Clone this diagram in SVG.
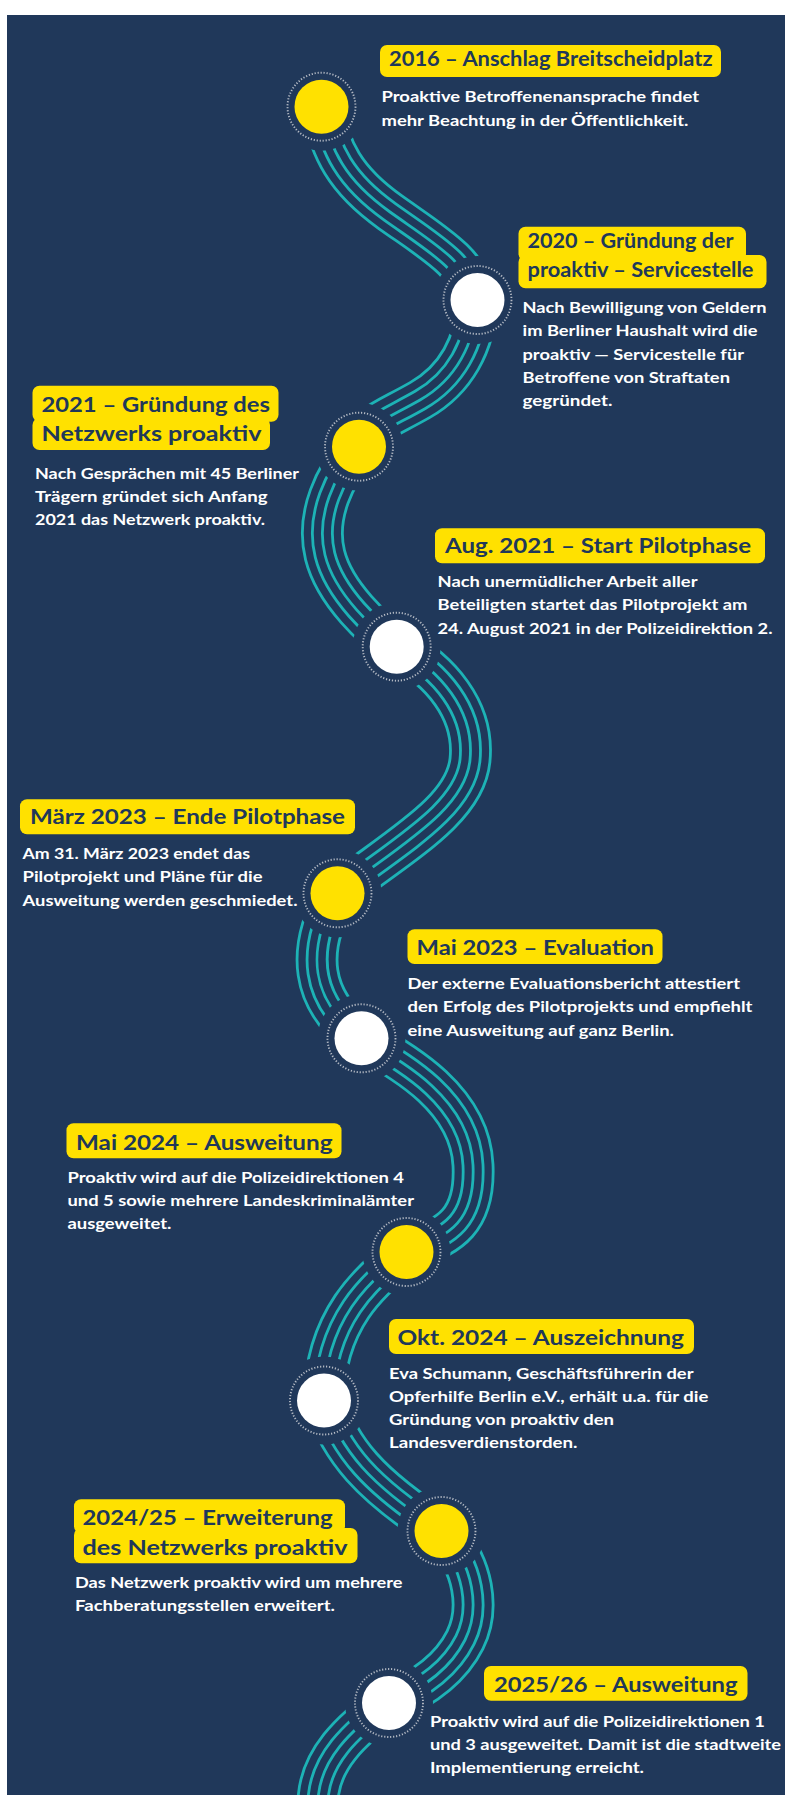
<svg xmlns="http://www.w3.org/2000/svg" xmlns:xlink="http://www.w3.org/1999/xlink" width="785" height="1795" viewBox="0 0 785 1795">
<style>
.bg{fill:#20385a}
.box{fill:#ffe100}
.title{font-family:Lato,"Open Sans","Liberation Sans",sans-serif;font-weight:700;font-size:21px;fill:#20385a}
.desc{font-family:Lato,"Open Sans","Liberation Sans",sans-serif;font-weight:700;font-size:15.5px;fill:#ffffff}
.ring{fill:none;stroke:#b4bac4;stroke-width:1.9;stroke-dasharray:1.2 1.8}
.y{fill:#ffe100}
.w{fill:#ffffff}
.t1{fill:none;stroke:#1db3b6;stroke-width:42.8}
.n1{fill:none;stroke:#20385a;stroke-width:37.2}
.t2{fill:none;stroke:#1db3b6;stroke-width:22.8}
.n2{fill:none;stroke:#20385a;stroke-width:17.2}
.t3{fill:none;stroke:#1db3b6;stroke-width:2.8}
</style>
<defs>
<path id="track" d="M 321.5 106.7 C 330 150, 345 180, 390 212 S 468 262, 477.5 300 C 475 345, 455 380, 420 400 S 365 425, 359 446.7 C 335 475, 315 515, 325 555 S 375 630, 396.7 646.7 C 440 670, 475 710, 470 760 S 400 845, 337.5 893.3 C 305 950, 310 1000, 361.5 1038.3 C 405 1062, 470 1100, 473 1165 S 440 1237, 406.5 1252 C 370 1280, 325 1320, 324 1400.5 C 340 1450, 370 1485, 441.5 1531 C 475 1565, 480 1610, 465 1640 S 420 1690, 389 1703 C 350 1730, 320 1760, 318 1800"/>
<mask id="gaps" maskUnits="userSpaceOnUse" x="0" y="0" width="785" height="1795">
<rect x="0" y="0" width="785" height="1795" fill="#fff"/>
<circle cx="321.5" cy="106.7" r="44" fill="#000"/>
<circle cx="477.5" cy="300" r="44" fill="#000"/>
<circle cx="359" cy="446.7" r="44" fill="#000"/>
<circle cx="396.7" cy="646.7" r="44" fill="#000"/>
<circle cx="337.5" cy="893.3" r="44" fill="#000"/>
<circle cx="361.5" cy="1038.3" r="44" fill="#000"/>
<circle cx="406.5" cy="1252" r="44" fill="#000"/>
<circle cx="324" cy="1400.5" r="44" fill="#000"/>
<circle cx="441.5" cy="1531" r="44" fill="#000"/>
<circle cx="389" cy="1703" r="44" fill="#000"/>
</mask>
</defs>
<rect x="0" y="0" width="785" height="1795" fill="#ffffff"/>
<rect class="bg" x="7" y="15" width="778" height="1780"/>
<g id="connectors" mask="url(#gaps)">
<use href="#track" class="t1"/>
<use href="#track" class="n1"/>
<use href="#track" class="t2"/>
<use href="#track" class="n2"/>
<use href="#track" class="t3"/>
</g>
<g id="node-2016">
<circle class="y" cx="321.5" cy="106.7" r="27"/>
<circle class="ring" cx="321.5" cy="106.7" r="34"/>
<rect class="box" x="380" y="45" width="341" height="32" rx="7"/>
<text class="title" x="389" y="66" textLength="323.5" lengthAdjust="spacingAndGlyphs">2016 – Anschlag Breitscheidplatz</text>
<text class="desc" x="381.5" y="101.7" textLength="317.5" lengthAdjust="spacingAndGlyphs">Proaktive Betroffenenansprache findet</text>
<text class="desc" x="381.5" y="125.5" textLength="307" lengthAdjust="spacingAndGlyphs">mehr Beachtung in der Öffentlichkeit.</text>
</g>
<g id="node-2020">
<circle class="w" cx="477.5" cy="300" r="27"/>
<circle class="ring" cx="477.5" cy="300" r="34"/>
<rect class="box" x="518.5" y="226.7" width="227.5" height="34" rx="7"/>
<rect class="box" x="518.5" y="255" width="248" height="33.3" rx="7"/>
<text class="title" x="527.5" y="248.3" textLength="206" lengthAdjust="spacingAndGlyphs">2020 – Gründung der</text>
<text class="title" x="527.5" y="276.7" textLength="226" lengthAdjust="spacingAndGlyphs">proaktiv – Servicestelle</text>
<text class="desc" x="522.5" y="313.3" textLength="244" lengthAdjust="spacingAndGlyphs">Nach Bewilligung von Geldern</text>
<text class="desc" x="522.5" y="336.3" textLength="235" lengthAdjust="spacingAndGlyphs">im Berliner Haushalt wird die</text>
<text class="desc" x="522.5" y="359.6" textLength="221.5" lengthAdjust="spacingAndGlyphs">proaktiv — Servicestelle für</text>
<text class="desc" x="522.5" y="382.9" textLength="207.5" lengthAdjust="spacingAndGlyphs">Betroffene von Straftaten</text>
<text class="desc" x="522.5" y="405.7" textLength="90" lengthAdjust="spacingAndGlyphs">gegründet.</text>
</g>
<g id="node-2021">
<circle class="y" cx="359" cy="446.7" r="27"/>
<circle class="ring" cx="359" cy="446.7" r="34"/>
<rect class="box" x="32.5" y="385.7" width="246" height="36" rx="7"/>
<rect class="box" x="32.5" y="418" width="237.5" height="32" rx="7"/>
<text class="title" x="41.5" y="411.7" textLength="228.5" lengthAdjust="spacingAndGlyphs">2021 – Gründung des</text>
<text class="title" x="41.5" y="440.7" textLength="220" lengthAdjust="spacingAndGlyphs">Netzwerks proaktiv</text>
<text class="desc" x="35" y="479.3" textLength="264" lengthAdjust="spacingAndGlyphs">Nach Gesprächen mit 45 Berliner</text>
<text class="desc" x="35" y="502.3" textLength="232.5" lengthAdjust="spacingAndGlyphs">Trägern gründet sich Anfang</text>
<text class="desc" x="35" y="525" textLength="230" lengthAdjust="spacingAndGlyphs">2021 das Netzwerk proaktiv.</text>
</g>
<g id="node-aug2021">
<circle class="w" cx="396.7" cy="646.7" r="27"/>
<circle class="ring" cx="396.7" cy="646.7" r="34"/>
<rect class="box" x="435" y="528.3" width="330" height="35" rx="7"/>
<text class="title" x="445" y="553.3" textLength="306" lengthAdjust="spacingAndGlyphs">Aug. 2021 – Start Pilotphase</text>
<text class="desc" x="437.5" y="586.7" textLength="260" lengthAdjust="spacingAndGlyphs">Nach unermüdlicher Arbeit aller</text>
<text class="desc" x="437.5" y="610.3" textLength="310" lengthAdjust="spacingAndGlyphs">Beteiligten startet das Pilotprojekt am</text>
<text class="desc" x="437.5" y="633.7" textLength="335" lengthAdjust="spacingAndGlyphs">24. August 2021 in der Polizeidirektion 2.</text>
</g>
<g id="node-maerz2023">
<circle class="y" cx="337.5" cy="893.3" r="27"/>
<circle class="ring" cx="337.5" cy="893.3" r="34"/>
<rect class="box" x="20" y="799.3" width="335" height="35" rx="7"/>
<text class="title" x="30" y="824" textLength="315" lengthAdjust="spacingAndGlyphs">März 2023 – Ende Pilotphase</text>
<text class="desc" x="22.5" y="859" textLength="227.5" lengthAdjust="spacingAndGlyphs">Am 31. März 2023 endet das</text>
<text class="desc" x="22.5" y="882.3" textLength="240" lengthAdjust="spacingAndGlyphs">Pilotprojekt und Pläne für die</text>
<text class="desc" x="22.5" y="905.7" textLength="275" lengthAdjust="spacingAndGlyphs">Ausweitung werden geschmiedet.</text>
</g>
<g id="node-mai2023">
<circle class="w" cx="361.5" cy="1038.3" r="27"/>
<circle class="ring" cx="361.5" cy="1038.3" r="34"/>
<rect class="box" x="407.5" y="929.3" width="255" height="34.7" rx="7"/>
<text class="title" x="416.5" y="955" textLength="237.5" lengthAdjust="spacingAndGlyphs">Mai 2023 – Evaluation</text>
<text class="desc" x="407.5" y="989.3" textLength="332.5" lengthAdjust="spacingAndGlyphs">Der externe Evaluationsbericht attestiert</text>
<text class="desc" x="407.5" y="1012.3" textLength="345" lengthAdjust="spacingAndGlyphs">den Erfolg des Pilotprojekts und empfiehlt</text>
<text class="desc" x="407.5" y="1036" textLength="266.5" lengthAdjust="spacingAndGlyphs">eine Ausweitung auf ganz Berlin.</text>
</g>
<g id="node-mai2024">
<circle class="y" cx="406.5" cy="1252" r="27"/>
<circle class="ring" cx="406.5" cy="1252" r="34"/>
<rect class="box" x="66.5" y="1123.3" width="275" height="35" rx="7"/>
<text class="title" x="76" y="1150" textLength="256.5" lengthAdjust="spacingAndGlyphs">Mai 2024 – Ausweitung</text>
<text class="desc" x="67.5" y="1182.7" textLength="336.5" lengthAdjust="spacingAndGlyphs">Proaktiv wird auf die Polizeidirektionen 4</text>
<text class="desc" x="67.5" y="1206" textLength="346.5" lengthAdjust="spacingAndGlyphs">und 5 sowie mehrere Landeskriminalämter</text>
<text class="desc" x="67.5" y="1229" textLength="104" lengthAdjust="spacingAndGlyphs">ausgeweitet.</text>
</g>
<g id="node-okt2024">
<circle class="w" cx="324" cy="1400.5" r="27"/>
<circle class="ring" cx="324" cy="1400.5" r="34"/>
<rect class="box" x="389" y="1319" width="305" height="35" rx="7"/>
<text class="title" x="397.5" y="1345" textLength="286.5" lengthAdjust="spacingAndGlyphs">Okt. 2024 – Auszeichnung</text>
<text class="desc" x="389" y="1379.3" textLength="304.5" lengthAdjust="spacingAndGlyphs">Eva Schumann, Geschäftsführerin der</text>
<text class="desc" x="389" y="1402.3" textLength="319.5" lengthAdjust="spacingAndGlyphs">Opferhilfe Berlin e.V., erhält u.a. für die</text>
<text class="desc" x="389" y="1425" textLength="225" lengthAdjust="spacingAndGlyphs">Gründung von proaktiv den</text>
<text class="desc" x="389" y="1448.3" textLength="188.5" lengthAdjust="spacingAndGlyphs">Landesverdienstorden.</text>
</g>
<g id="node-2024-25">
<circle class="y" cx="441.5" cy="1531" r="27"/>
<circle class="ring" cx="441.5" cy="1531" r="34"/>
<rect class="box" x="74" y="1499.3" width="271" height="34" rx="7"/>
<rect class="box" x="74" y="1528" width="283.5" height="35.3" rx="7"/>
<text class="title" x="82.5" y="1525" textLength="250" lengthAdjust="spacingAndGlyphs">2024/25 – Erweiterung</text>
<text class="title" x="82.5" y="1555" textLength="265" lengthAdjust="spacingAndGlyphs">des Netzwerks proaktiv</text>
<text class="desc" x="75" y="1588.3" textLength="327.5" lengthAdjust="spacingAndGlyphs">Das Netzwerk proaktiv wird um mehrere</text>
<text class="desc" x="75" y="1611.3" textLength="260" lengthAdjust="spacingAndGlyphs">Fachberatungsstellen erweitert.</text>
</g>
<g id="node-2025-26">
<circle class="w" cx="389" cy="1703" r="27"/>
<circle class="ring" cx="389" cy="1703" r="34"/>
<rect class="box" x="484" y="1666" width="263.5" height="34.7" rx="7"/>
<text class="title" x="494" y="1691.7" textLength="243.5" lengthAdjust="spacingAndGlyphs">2025/26 – Ausweitung</text>
<text class="desc" x="430" y="1726.7" textLength="335" lengthAdjust="spacingAndGlyphs">Proaktiv wird auf die Polizeidirektionen 1</text>
<text class="desc" x="430" y="1749.7" textLength="351" lengthAdjust="spacingAndGlyphs">und 3 ausgeweitet. Damit ist die stadtweite</text>
<text class="desc" x="430" y="1772.7" textLength="214" lengthAdjust="spacingAndGlyphs">Implementierung erreicht.</text>
</g>
</svg>
